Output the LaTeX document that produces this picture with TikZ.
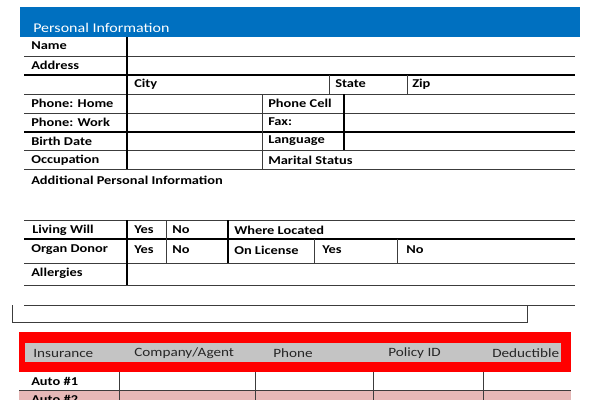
\documentclass[tikz,border=0pt]{standalone}
\usepackage{fontspec}
\setmainfont{Carlito}[FakeStretch=1.2]
\definecolor{hdrblue}{RGB}{0,112,192}
\definecolor{insred}{RGB}{255,0,0}
\definecolor{insgray}{RGB}{196,196,196}
\definecolor{rowpink}{RGB}{230,184,183}
\definecolor{lncol}{RGB}{60,60,60}
\begin{document}
\begin{tikzpicture}[x=0.75pt,y=0.75pt,yscale=-1,xscale=1,
	thinln/.style={draw=lncol,line width=0.6pt},
	thickln/.style={draw=black,line width=1.4pt},
	lbl/.style={anchor=west,inner sep=0.75pt,font=\fontsize{9}{10}\selectfont\bfseries},
	hdr/.style={anchor=west,inner sep=0.75pt,font=\fontsize{9.5}{11}\selectfont,text=black!85}]
	\useasboundingbox (0,0) rectangle (600,400);
	% personal information
	\fill[hdrblue] (20,7) rectangle (580,37);
	\draw (32,28) node [anchor=west,inner sep=0.75pt,text=white,font=\fontsize{10}{12}\selectfont] (hpers) {Personal Information};
	\draw[thinln] (24,56) -- (575,56);
	\draw[thickln] (24,75) -- (575,75);
	\draw[thinln] (24,94) -- (575,94);
	\draw[thinln] (24,113) -- (575,113);
	\draw[thickln] (24,132) -- (575,132);
	\draw[thinln] (24,150) -- (575,150);
	\draw[thinln] (24,169) -- (575,169);
	\draw[thickln] (127,37) -- (127,169);
	\draw[thinln] (329,75) -- (329,94);
	\draw[thinln] (407,75) -- (407,94);
	\draw[thinln] (262,94) -- (262,169);
	\draw[thickln] (344,94) -- (344,150);

	\draw (30,46) node [lbl] (name) {Name};
	\draw (30,65) node [lbl] (addr) {Address};
	\draw (133,84) node [lbl] (city) {City};
	\draw (334,84) node [lbl] (state) {State};
	\draw (411,84) node [lbl] (zip) {Zip};
	\draw (30,103) node [lbl] (phome) {Phone: Home};
	\draw (267,103) node [lbl] (pcell) {Phone Cell};
	\draw (30,122) node [lbl] (pwork) {Phone: Work};
	\draw (267,122) node [lbl] (fax) {Fax:};
	\draw (30,141) node [lbl] (birth) {Birth Date};
	\draw (267,141) node [lbl] (lang) {Language};
	\draw (30,160) node [lbl] (occ) {Occupation};
	\draw (267,160) node [lbl] (marital) {Marital Status};
	\draw (30,180) node [lbl] (addinfo) {Additional Personal Information};

	% living will / donor
	\draw[thinln] (24,220) -- (575,220);
	\draw[thickln] (24,239) -- (575,239);
	\draw[thinln] (24,263) -- (575,263);
	\draw[thinln] (24,285) -- (575,285);
	\draw[thinln] (24,305) -- (575,305);
	\draw[thickln] (127,220) -- (127,285);
	\draw[thinln] (166,220) -- (166,263);
	\draw[thickln] (228,220) -- (228,263);
	\draw[thinln] (314,239) -- (314,263);
	\draw[thinln] (397,239) -- (397,263);
	\draw[thinln] (12,305) -- (12,322) -- (527,322) -- (527,305);

	\draw (31,230) node [lbl] (living) {Living Will};
	\draw (133,230) node [lbl] (lyes) {Yes};
	\draw (171,230) node [lbl] (lno) {No};
	\draw (233,230) node [lbl] (where) {Where Located};
	\draw (30,250) node [lbl] (organ) {Organ Donor};
	\draw (133,250) node [lbl] (oyes) {Yes};
	\draw (171,250) node [lbl] (ono) {No};
	\draw (233,250) node [lbl] (lic) {On License};
	\draw (321,250) node [lbl] (licyes) {Yes};
	\draw (405,250) node [lbl] (licno) {No};
	\draw (30,273) node [lbl] (allerg) {Allergies};

	% insurance
	\fill[insred] (19,332) rectangle (571,372);
	\fill[insgray] (25,343) rectangle (561,362);
	\fill[rowpink] (19,390) rectangle (571,400);
	\draw[thinln] (19,390) -- (571,390);
	\draw[thinln] (119,372) -- (119,400);
	\draw[thinln] (255,372) -- (255,400);
	\draw[thinln] (373,372) -- (373,400);
	\draw[thinln] (483,372) -- (483,400);

	\draw (32,353) node [hdr] (hins) {Insurance};
	\draw (133,353) node [hdr] (hcomp) {Company/Agent};
	\draw (272,353) node [hdr] (hphone) {Phone};
	\draw (387,353) node [hdr] (hpol) {Policy ID};
	\draw (491,353) node [hdr] (hded) {Deductible};
	\draw (30,381) node [lbl] (auto1) {Auto \#1};
	\draw (30,399) node [lbl] (auto2) {Auto \#2};
\end{tikzpicture}
\end{document}
